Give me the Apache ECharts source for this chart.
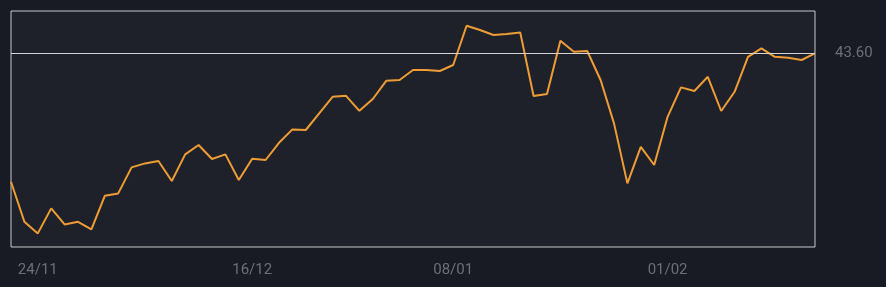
<!DOCTYPE html>
<html>
<head>
<meta charset="utf-8">
<style>
html,body{margin:0;padding:0;background:#191b24;}
#chart{width:886px;height:287px;}
</style>
<script src="https://cdn.jsdelivr.net/npm/echarts@6/dist/echarts.min.js"></script>
</head>
<body>
<div id="chart"></div>
<script>
const values = [
  37.18, 35.18, 34.60, 35.85, 35.05, 35.18, 34.80, 36.48, 36.60, 37.90,
  38.10, 38.22, 37.22, 38.55, 39.02, 38.32, 38.55, 37.27, 38.33, 38.27,
  39.13, 39.80, 39.77, 40.60, 41.43, 41.48, 40.73, 41.32, 42.23, 42.27,
  42.77, 42.77, 42.72, 43.02, 44.98, 44.77, 44.52, 44.57, 44.65, 41.47,
  41.57, 44.23, 43.68, 43.72, 42.27, 40.10, 37.10, 38.93, 38.02, 40.43,
  41.90, 41.72, 42.43, 40.72, 41.68, 43.43, 43.85, 43.43, 43.38, 43.27,
  43.60
];
const tickLabels = ['24/11', '16/12', '08/01', '01/02'];
const tickIndex = [2, 18, 33, 49];
const lastValue = 43.60;

const categories = values.map((v, i) => {
  const k = tickIndex.indexOf(i);
  return k >= 0 ? tickLabels[k] : '';
});

const chart = echarts.init(document.getElementById('chart'), null, {renderer: 'canvas'});
chart.setOption({
  backgroundColor: '#191b24',
  animation: false,
  grid: {
    left: 11, right: 71, top: 11, bottom: 40,
    show: true,
    backgroundColor: '#1f212a',
    borderColor: '#c9c9cc',
    borderWidth: 1
  },
  xAxis: {
    type: 'category',
    data: categories,
    boundaryGap: false,
    axisLine: {show: false},
    axisTick: {show: false},
    splitLine: {show: false},
    axisLabel: {
      interval: 0,
      margin: 16,
      color: '#6c6f78',
      fontSize: 15,
      fontFamily: 'Roboto'
    }
  },
  yAxis: {
    type: 'value',
    min: 33.92,
    max: 45.72,
    show: false,
    splitLine: {show: false}
  },
  series: [{
    type: 'line',
    data: values,
    symbol: 'none',
    lineStyle: {color: '#ee9d35', width: 2},
    markLine: {
      silent: true,
      symbol: 'none',
      data: [{yAxis: lastValue}],
      lineStyle: {color: '#d4d4d8', width: 1, type: 'solid'},
      label: {
        position: 'end',
        distance: 20,
        formatter: lastValue.toFixed(2),
        color: '#6c6f78',
        fontSize: 15,
        fontFamily: 'Roboto'
      }
    },
    z: 3
  }]
});
</script>
</body>
</html>
